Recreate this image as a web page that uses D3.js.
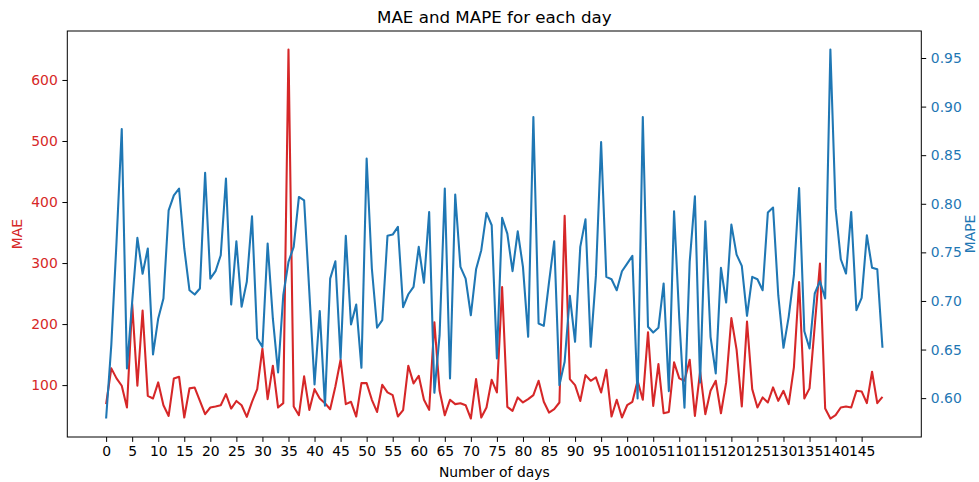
<!DOCTYPE html>
<html>
<head>
<meta charset="utf-8">
<script src="https://cdn.jsdelivr.net/npm/d3@7"></script>
<style>
  html, body { margin: 0; padding: 0; background: #fff; }
  svg { display: block; font-family: "DejaVu Sans", sans-serif; }
</style>
</head>
<body>
<svg id="chart" width="979" height="482"></svg>
<script>
// Daily error metrics, one entry per day (day 0 .. 149)
const mae = [
  68.8, 127.4, 111, 98.9, 63.3, 233, 98.9, 222, 82.4, 78,
  104.4, 67, 49.5, 111, 113.7, 46.9, 94.6, 96, 74, 52.3,
  63.3, 65, 67, 85.2, 61.6, 74, 67, 47.9, 72.6, 93.4,
  160, 77, 131.8, 63.3, 70.4, 650, 65, 50.7, 114.3, 59.4,
  93.4, 78, 70.4, 60.5, 97.8, 141.6, 68.8, 72.6, 48.5, 103.3,
  103.3, 75.9, 56, 100.5, 88, 83.5, 48.5, 58.9, 131.8, 102.8,
  115.3, 75.9, 59.4, 203.1, 90.6, 50.7, 75.9, 68.8, 70.4, 67,
  45.2, 109.9, 46.9, 63.3, 108.7, 88, 260.7, 64.4, 57.8, 79.8,
  71.5, 77, 83.5, 107.1, 72.6, 55, 60.5, 71.5, 377.5, 109.9,
  100, 74, 116.4, 107.1, 112.6, 88, 125.2, 48.5, 75.9, 46.9,
  67, 72.6, 107.1, 75.9, 186.7, 66, 134.5, 53.9, 56, 137.3,
  111, 107.1, 141.6, 49.5, 121.9, 52.3, 90.6, 107.1, 53.9, 104.4,
  209.7, 158.1, 65, 204.1, 93.4, 63.3, 79.8, 71.5, 96.2, 74.2,
  90.6, 68.8, 129.1, 268.9, 78, 94.6, 197.5, 299, 61.6, 45.2,
  50.7, 63.3, 65, 63.3, 90.6, 89.6, 70.4, 121.9, 70.4, 80.8
];

const mape = [
  0.579, 0.655, 0.761, 0.877, 0.6305, 0.699, 0.765, 0.728, 0.754, 0.645,
  0.682, 0.7025, 0.7933, 0.8087, 0.8156, 0.754, 0.711, 0.7066, 0.7128, 0.832,
  0.723, 0.7306, 0.747, 0.826, 0.6963, 0.7614, 0.694, 0.7197, 0.787, 0.6614,
  0.6528, 0.759, 0.682, 0.6264, 0.7059, 0.7402, 0.7557, 0.807, 0.8036, 0.7094,
  0.614, 0.6895, 0.5922, 0.723, 0.7409, 0.6408, 0.767, 0.6758, 0.6963, 0.6312,
  0.8465, 0.7334, 0.6724, 0.6802, 0.767, 0.7683, 0.7762, 0.6936, 0.7069, 0.7145,
  0.7557, 0.7187, 0.7916, 0.6055, 0.6648, 0.8156, 0.6203, 0.8094, 0.7351, 0.723,
  0.6853, 0.7326, 0.7522, 0.7906, 0.7779, 0.6408, 0.7855, 0.7693, 0.7306, 0.7717,
  0.7351, 0.6631, 0.8893, 0.6768, 0.6744, 0.719, 0.7614, 0.6134, 0.6374, 0.7053,
  0.658, 0.7557, 0.784, 0.6528, 0.7258, 0.8636, 0.7248, 0.7224, 0.711, 0.7306,
  0.7385, 0.7464, 0.5997, 0.8893, 0.6734, 0.6675, 0.6724, 0.718, 0.6072, 0.7923,
  0.682, 0.5901, 0.7402, 0.8077, 0.6161, 0.782, 0.6631, 0.6254, 0.7341, 0.6984,
  0.7786, 0.7477, 0.7361, 0.6847, 0.7248, 0.7224, 0.711, 0.7909, 0.7961, 0.7059,
  0.6518, 0.6837, 0.7265, 0.8163, 0.6689, 0.6511, 0.7077, 0.7203, 0.7025, 0.9588,
  0.795, 0.7429, 0.7282, 0.7916, 0.6905, 0.7032, 0.7676, 0.7341, 0.7326, 0.6518
];

const days = d3.range(mae.length);
const xTicks = d3.range(0, 150, 5);
const maeTicks = [100, 200, 300, 400, 500, 600];
const mapeTicks = [0.60, 0.65, 0.70, 0.75, 0.80, 0.85, 0.90, 0.95];

const titleText = "MAE and MAPE for each day";
const xLabel = "Number of days";
const maeLabel = "MAE";
const mapeLabel = "MAPE";

const red = "#d62728";
const blue = "#1f77b4";

const svg = d3.select("#chart");
const box = { left: 67.3, right: 921.3, top: 31, bottom: 437 };

// 5% padding on each side of the data extent
function padded(ext) {
  const p = (ext[1] - ext[0]) * 0.05;
  return [ext[0] - p, ext[1] + p];
}

const x = d3.scaleLinear().domain(padded(d3.extent(days))).range([box.left, box.right]);
const yL = d3.scaleLinear().domain(padded(d3.extent(mae))).range([box.bottom, box.top]);
const yR = d3.scaleLinear().domain(padded(d3.extent(mape))).range([box.bottom, box.top]);

const fontSize = "13.9px";

function styleAxis(g, color) {
  g.select(".domain").remove();
  g.selectAll(".tick line").attr("stroke", "#000").attr("stroke-width", 1);
  g.selectAll(".tick text").attr("fill", color).style("font-size", fontSize)
    .style("font-family", "'DejaVu Sans', sans-serif");
}

// x axis
svg.append("g")
  .attr("transform", `translate(0,${box.bottom})`)
  .call(d3.axisBottom(x).tickValues(xTicks).tickFormat(d3.format("d")).tickSize(4.9).tickPadding(4.6))
  .call(g => styleAxis(g, "#000"));

// left axis (MAE)
svg.append("g")
  .attr("transform", `translate(${box.left},0)`)
  .call(d3.axisLeft(yL).tickValues(maeTicks).tickFormat(d3.format("d")).tickSize(4.9).tickPadding(4.6))
  .call(g => styleAxis(g, red));

// right axis (MAPE)
svg.append("g")
  .attr("transform", `translate(${box.right},0)`)
  .call(d3.axisRight(yR).tickValues(mapeTicks).tickFormat(d3.format(".2f")).tickSize(4.9).tickPadding(4.6))
  .call(g => styleAxis(g, blue));

// clip lines to the axes box
svg.append("clipPath").attr("id", "plotclip")
  .append("rect")
  .attr("x", box.left).attr("y", box.top)
  .attr("width", box.right - box.left).attr("height", box.bottom - box.top);

const plot = svg.append("g").attr("clip-path", "url(#plotclip)");

plot.append("path")
  .datum(days)
  .attr("fill", "none")
  .attr("stroke", red)
  .attr("stroke-width", 2.08)
  .attr("stroke-linejoin", "round")
  .attr("d", d3.line().x(d => x(d)).y(d => yL(mae[d])));

plot.append("path")
  .datum(days)
  .attr("fill", "none")
  .attr("stroke", blue)
  .attr("stroke-width", 2.08)
  .attr("stroke-linejoin", "round")
  .attr("d", d3.line().x(d => x(d)).y(d => yR(mape[d])));

// frame
svg.append("rect")
  .attr("x", box.left).attr("y", box.top)
  .attr("width", box.right - box.left).attr("height", box.bottom - box.top)
  .attr("fill", "none").attr("stroke", "#000").attr("stroke-width", 1);

// title and labels
svg.append("text")
  .attr("x", (box.left + box.right) / 2).attr("y", 23)
  .attr("text-anchor", "middle")
  .style("font-size", "16.7px")
  .text(titleText);

svg.append("text")
  .attr("x", (box.left + box.right) / 2).attr("y", 477)
  .attr("text-anchor", "middle")
  .style("font-size", fontSize)
  .text(xLabel);

svg.append("text")
  .attr("transform", `translate(22,${(box.top + box.bottom) / 2}) rotate(-90)`)
  .attr("text-anchor", "middle")
  .attr("fill", red)
  .style("font-size", fontSize)
  .text(maeLabel);

svg.append("text")
  .attr("transform", `translate(975,${(box.top + box.bottom) / 2}) rotate(-90)`)
  .attr("text-anchor", "middle")
  .attr("fill", blue)
  .style("font-size", fontSize)
  .text(mapeLabel);
</script>
</body>
</html>
